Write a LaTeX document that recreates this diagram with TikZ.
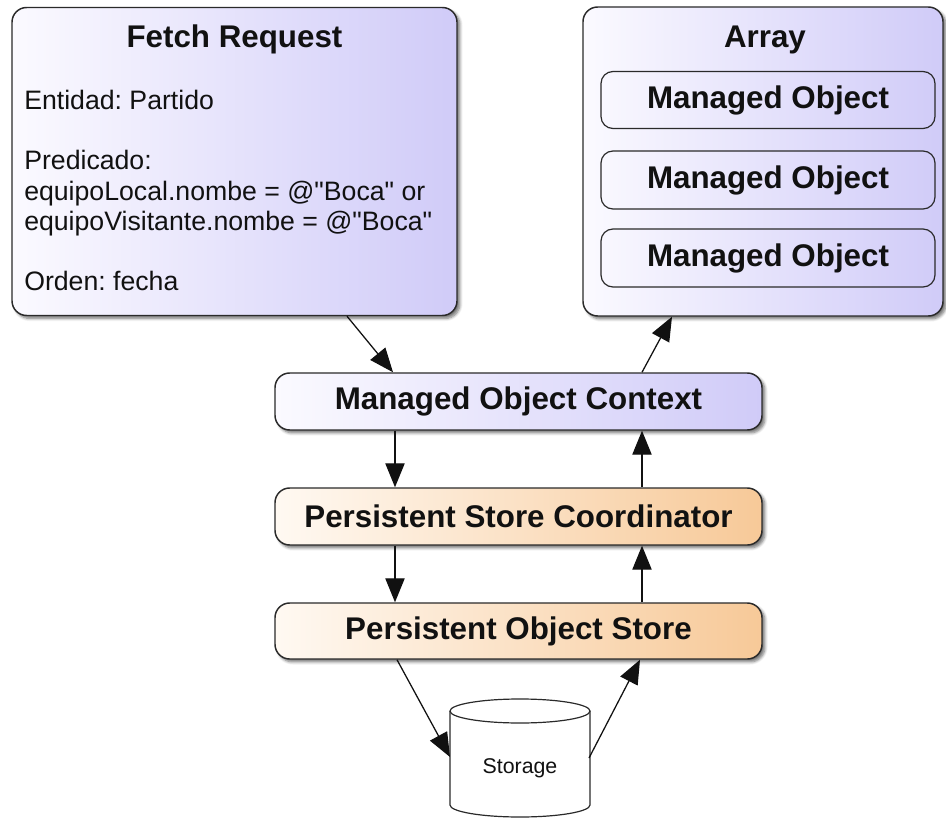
\documentclass[tikz,border=0pt]{standalone}
\usepackage{fontspec}
\setmainfont{Liberation Sans}[Ligatures=TeXOff]
\frenchspacing
\usetikzlibrary{arrows.meta,calc,shadows.blur}

\definecolor{edge}{HTML}{2A2A2A}
\definecolor{lav}{HTML}{D0CBF8}
\definecolor{lavlight}{HTML}{FBFAFF}
\definecolor{peach}{HTML}{F7C998}
\definecolor{peachlight}{HTML}{FFF9F2}
\definecolor{ink}{HTML}{111111}

\tikzset{
  box/.style={draw=edge, line width=1.1pt, rounded corners=11pt, inner sep=0pt,
    blur shadow={shadow xshift=2.2pt, shadow yshift=-2.2pt, shadow blur steps=6,
      shadow blur extra rounding=1pt, shadow opacity=55}},
  lavbox/.style={box, left color=lavlight, right color=lav},
  peachbox/.style={box, left color=peachlight, right color=peach},
  itembox/.style={draw=edge, line width=0.9pt, rounded corners=9pt, inner sep=0pt},
  boldlabel/.style={font=\fontsize{23.5}{26}\selectfont\bfseries, text=ink, inner sep=0pt},
  plainlabel/.style={font=\fontsize{20}{22.5}\selectfont, text=ink, inner sep=0pt, anchor=base west},
  arr/.style={draw=ink, line width=0.95pt, -{Triangle[length=18pt,width=14.5pt]}},
}

\begin{document}
\frenchspacing
\begin{tikzpicture}[x=0.75pt, y=-0.75pt]
\useasboundingbox (0,0) rectangle (946,820);

% upper boxes
\node[lavbox, minimum width=445*0.75pt, minimum height=308*0.75pt] (fetch) at (234.5,161.5) {};
\node[lavbox, minimum width=360*0.75pt, minimum height=309*0.75pt] (array) at (763,161.5) {};

% fetch request contents
\node[boldlabel, anchor=base] (fetchtitle) at (234.5,48) {Fetch Request};
\node[plainlabel] (entity) at (24,110) {Entidad: Partido};
\node[plainlabel] (pred) at (24,170) {Predicado:};
\node[plainlabel] (predA) at (24,200) {equipoLocal.nombe = @"Boca" or};
\node[plainlabel] (predB) at (24,230) {equipoVisitante.nombe = @"Boca"};
\node[plainlabel] (order) at (24,290) {Orden: fecha};

% array contents
\node[boldlabel, anchor=base] (arraytitle) at (765,48) {Array};
\node[itembox, minimum width=334*0.75pt, minimum height=57*0.75pt] (mo1) at (768,100) {};
\node[itembox, minimum width=334*0.75pt, minimum height=58*0.75pt] (mo2) at (768,180) {};
\node[itembox, minimum width=334*0.75pt, minimum height=58*0.75pt] (mo3) at (768,258) {};
\node[boldlabel] (mo1t) at (mo1) {Managed Object};
\node[boldlabel] (mo2t) at (mo2) {Managed Object};
\node[boldlabel] (mo3t) at (mo3) {Managed Object};

% core data stack
\node[lavbox, minimum width=487*0.75pt, minimum height=57*0.75pt] (moc) at (518.5,401.5) {};
\node[peachbox, minimum width=487*0.75pt, minimum height=57*0.75pt] (psc) at (518.5,516.5) {};
\node[peachbox, minimum width=487*0.75pt, minimum height=56*0.75pt] (pos) at (518.5,631) {};
\node[boldlabel] (moct) at (moc) {Managed Object Context};
\node[boldlabel] (psct) at (psc) {Persistent Store Coordinator};
\node[boldlabel] (post) at (pos) {Persistent Object Store};

% storage cylinder
\draw[edge, line width=0.9pt, fill=white]
  (450,711) -- (450,805) arc[start angle=180, end angle=360, x radius=52.5pt, y radius=9pt] -- (590,711);
\draw[edge, line width=0.9pt, fill=white] (520,711) ellipse[x radius=52.5pt, y radius=9pt];
\node[font=\fontsize{16}{18}\selectfont, text=ink, inner sep=0pt] (storage) at (520,768) {Storage};
\coordinate (stL) at (450,757);
\coordinate (stR) at (589,758);

% connectors
\draw[arr] ($(fetch.south)+(112.5,0)$) -- ($(moc.north)+(-125.5,0)$);
\draw[arr] ($(moc.north)+(123.5,0)$) -- ($(array.south)+(-91,0)$);
\draw[arr] ($(moc.south)+(-123.5,0)$) -- ($(psc.north)+(-123.5,0)$);
\draw[arr] ($(psc.north)+(123.5,0)$) -- ($(moc.south)+(123.5,0)$);
\draw[arr] ($(psc.south)+(-123.5,0)$) -- ($(pos.north)+(-123.5,0)$);
\draw[arr] ($(pos.north)+(123.5,0)$) -- ($(psc.south)+(123.5,0)$);
\draw[arr] ($(pos.south)+(-121.5,0)$) -- (stL);
\draw[arr] (stR) -- ($(pos.south)+(121.5,0)$);
\end{tikzpicture}
\end{document}
